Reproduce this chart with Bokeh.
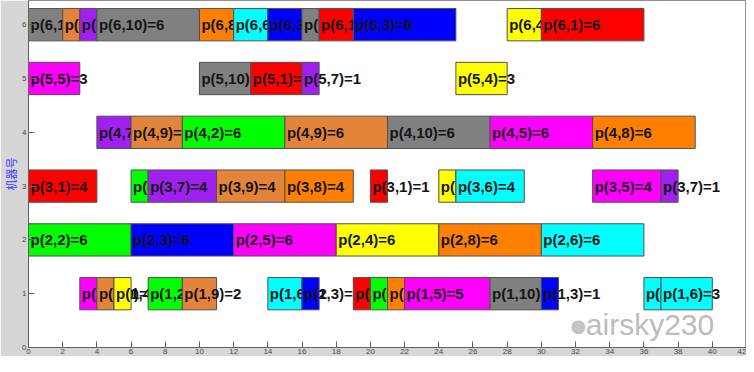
from bokeh.plotting import figure
from bokeh.models import ColumnDataSource, FixedTicker, Range1d, Label
from bokeh.core.properties import value
from bokeh.embed import file_html
from bokeh.resources import INLINE

# Gantt data: machine, job, start, duration
machines = [6, 6, 6, 6, 6, 6, 6, 6, 6, 6, 6, 6,
            5, 5, 5, 5, 5,
            4, 4, 4, 4, 4, 4, 4,
            3, 3, 3, 3, 3, 3, 3, 3, 3, 3,
            2, 2, 2, 2, 2, 2,
            1, 1, 1, 1, 1, 1, 1, 1, 1, 1, 1, 1, 1, 1, 1]
jobs = [10, 9, 7, 10, 8, 6, 3, 10, 1, 3, 4, 1,
        5, 10, 1, 7, 4,
        7, 9, 2, 9, 10, 5, 8,
        1, 2, 7, 9, 8, 1, 4, 6, 5, 7,
        2, 3, 5, 4, 8, 6,
        5, 9, 4, 2, 9, 6, 3, 1, 2, 8, 5, 10, 3, 6, 6]
starts = [0, 2, 3, 4, 10, 12, 14, 16, 17, 19, 28, 30,
          0, 10, 13, 16, 25,
          4, 6, 9, 15, 21, 27, 33,
          0, 6, 7, 11, 15, 20, 24, 25, 33, 37,
          0, 6, 12, 18, 24, 30,
          3, 4, 5, 7, 9, 14, 16, 19, 20, 21, 22, 27, 30, 36, 37]
durations = [2, 1, 1, 6, 2, 2, 2, 1, 2, 6, 2, 6,
             3, 3, 3, 1, 3,
             2, 3, 6, 6, 6, 6, 6,
             4, 1, 4, 4, 4, 1, 1, 4, 4, 1,
             6, 6, 6, 6, 6, 6,
             1, 1, 1, 2, 2, 2, 1, 1, 1, 1, 5, 3, 1, 1, 3]

job_colors = {1: "#ff0000", 2: "#00ff00", 3: "#0000ff", 4: "#ffff00", 5: "#ff00ff",
              6: "#00ffff", 7: "#a020f0", 8: "#ff8000", 9: "#e3843a", 10: "#808080"}

x_ticks = [0, 2, 4, 6, 8, 10, 12, 14, 16, 18, 20, 22, 24, 26, 28, 30, 32, 34, 36, 38, 40, 42]
y_ticks = [0, 1, 2, 3, 4, 5, 6]

p = figure(width=746, height=356, x_range=Range1d(0, 42), y_range=Range1d(0, 6.45),
           output_backend="svg", toolbar_location=None,
           min_border_left=2, min_border_right=0, min_border_top=0, min_border_bottom=0)
p.background_fill_color = "white"
p.border_fill_color = "#d6d6d6"
p.outline_line_color = "#909090"
p.grid.visible = False

bar_h = 0.6
for m, j, s, d in zip(machines, jobs, starts, durations):
    src = ColumnDataSource(dict(left=[s], right=[s + d], bottom=[m - bar_h / 2], top=[m + bar_h / 2],
                                y=[m], color=[job_colors[j]], label=["p(%d,%d)=%d" % (m, j, d)]))
    p.quad(left="left", right="right", bottom="bottom", top="top", source=src,
           fill_color="color", line_color="#505050", line_width=1)
    p.text(x="left", y="y", text="label", source=src, x_offset=2,
           text_font=value("Liberation Sans"), text_font_style="bold", text_font_size="15px",
           text_baseline="middle", text_align="left", text_color="#151515")

p.xaxis.ticker = FixedTicker(ticks=x_ticks)
p.yaxis.ticker = FixedTicker(ticks=y_ticks)
for ax in (p.xaxis, p.yaxis):
    ax.major_tick_in = 6
    ax.major_tick_out = 0
    ax.minor_tick_line_color = None
    ax.axis_line_color = "#606060"
    ax.major_tick_line_color = "#606060"
    ax.major_label_text_font_size = "8px"
    ax.major_label_text_color = "#444444"
    ax.major_label_standoff = 2
    ax.major_label_text_font = "Liberation Sans"
p.xaxis.major_label_standoff = 1

p.yaxis.axis_label = "机器号"
p.yaxis.axis_label_text_font = "Noto Sans CJK SC"
p.yaxis.axis_label_text_font_style = "normal"
p.yaxis.axis_label_text_font_size = "11px"
p.yaxis.axis_label_text_color = "#3a3aff"
p.yaxis.axis_label_standoff = 0

wm = Label(x=32.6, y=0.12, text="airsky230", text_font="Liberation Sans",
           text_font_size="30px", text_color="#bcbcbc", text_baseline="bottom")
p.add_layout(wm)
icon = Label(x=31.7, y=0.22, text="●", text_font="DejaVu Sans",
             text_font_size="18px", text_color="#c4c4c4", text_baseline="bottom")
p.add_layout(icon)

open("out.html", "w").write(file_html(p, INLINE))
